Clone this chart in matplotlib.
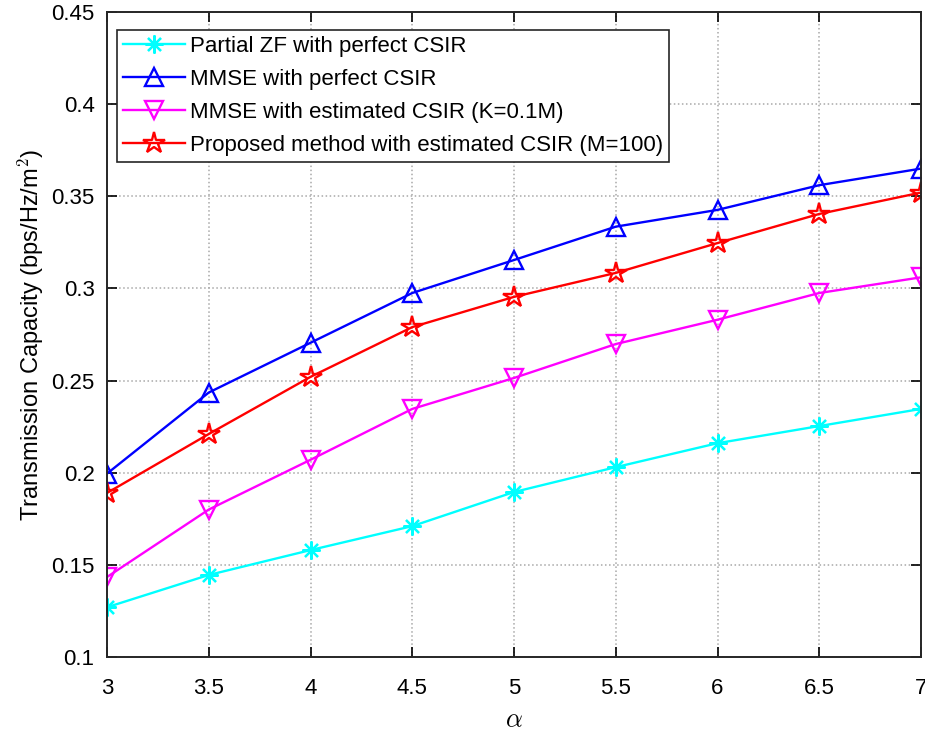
import numpy as np
import matplotlib
matplotlib.use("Agg")
import matplotlib.pyplot as plt

plt.rcParams['font.family'] = ['Liberation Sans', 'DejaVu Sans']
plt.rcParams['mathtext.fontset'] = 'cm'

alpha = [3, 3.5, 4, 4.5, 5, 5.5, 6, 6.5, 7]
zf_perfect = [0.127, 0.1445, 0.158, 0.171, 0.1895, 0.203, 0.216, 0.2253, 0.2346]
mmse_perfect = [0.1995, 0.2435, 0.2705, 0.2975, 0.3154, 0.3335, 0.3426, 0.356, 0.365]
mmse_estimated = [0.1434, 0.18, 0.207, 0.2346, 0.2514, 0.2698, 0.283, 0.2975, 0.306]
proposed = [0.189, 0.221, 0.252, 0.279, 0.2954, 0.3084, 0.3246, 0.3404, 0.352]

labels = ['Partial ZF with perfect CSIR',
          'MMSE with perfect CSIR',
          'MMSE with estimated CSIR (K=0.1M)',
          'Proposed method with estimated CSIR (M=100)']

fig = plt.figure(figsize=(9.25, 7.33), dpi=100)
ax = fig.add_axes([0.1157, 0.1037, 0.88, 0.88])

# MATLAB style '*' marker: plus and cross together
star8 = (8, 2, 0)
ax.plot(alpha, zf_perfect, '-', marker=star8, color='#00ffff', lw=1.7, ms=13, mew=1.6, label=labels[0])
ax.plot(alpha, mmse_perfect, '-^', color='#0000ff', lw=1.7, ms=13, mew=1.7, mfc='none', label=labels[1])
ax.plot(alpha, mmse_estimated, '-v', color='#ff00ff', lw=1.7, ms=13, mew=1.7, mfc='none', label=labels[2])
ax.plot(alpha, proposed, '-*', color='#ff0000', lw=1.7, ms=16, mew=1.7, mfc='none', label=labels[3])

ax.set_xlim(3, 7)
ax.set_ylim(0.1, 0.45)
ax.set_xticks(alpha)
ax.set_xticklabels(['3', '3.5', '4', '4.5', '5', '5.5', '6', '6.5', '7'])
ax.set_yticks(np.arange(0.1, 0.451, 0.05))
ax.set_yticklabels(['0.1', '0.15', '0.2', '0.25', '0.3', '0.35', '0.4', '0.45'])
ax.tick_params(direction='in', top=True, right=True, labelsize=16, length=7, width=1.2)
ax.tick_params(axis='x', pad=15)
ax.tick_params(axis='y', pad=9)
ax.grid(True, linestyle=':', color='#a8a8a8', lw=1.1)
for s in ax.spines.values():
    s.set_linewidth(1.4)
    s.set_color('#262626')

ax.set_xlabel(r'$\alpha$', fontsize=19, labelpad=7)
ax.set_ylabel('Transmission Capacity (bps/Hz/m$^2$)', fontsize=17, labelpad=4)

leg = ax.legend(loc='upper left', bbox_to_anchor=(0.0123, 0.972), fontsize=16, fancybox=False,
                edgecolor='#262626', framealpha=1, borderaxespad=0, handlelength=2.8,
                labelspacing=0.55, borderpad=0.25, handletextpad=0.25)
leg.get_frame().set_linewidth(1.2)

fig.savefig('out.png', dpi=100)
